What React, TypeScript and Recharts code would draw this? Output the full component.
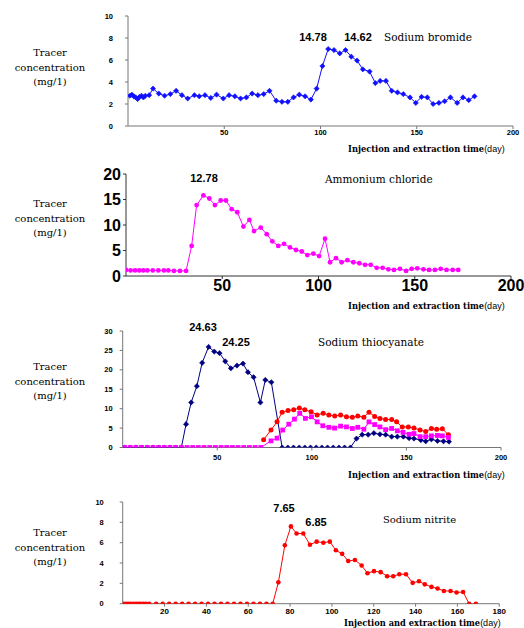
import React from "react";
import { LineChart, Line, XAxis, YAxis } from "recharts";

// Sodium bromide
const bromideDays = [1, 2, 3, 4, 5, 6, 7, 8, 9, 11, 13, 16, 19, 22, 25, 28, 31, 34.5, 37, 40, 43, 46, 49.5, 52.5, 55.5, 58.5, 61.5, 64.5, 67.5, 70.5, 73.5, 77, 80, 83, 86, 89, 92, 95, 98, 101, 104, 107, 110, 113, 116, 119, 122, 125.5, 128.5, 131, 134, 137, 140, 143, 146.5, 149.5, 152.5, 155.5, 158.5, 161.5, 164.5, 167.5, 171, 174, 177, 180];
const bromideValues = [2.75, 2.85, 2.7, 2.6, 2.45, 2.65, 2.75, 2.6, 2.75, 2.8, 3.4, 2.95, 2.75, 2.9, 3.2, 2.8, 2.5, 2.8, 2.7, 2.8, 2.55, 2.85, 2.5, 2.8, 2.7, 2.5, 2.6, 2.95, 2.8, 2.9, 3.2, 2.3, 2.2, 2.2, 2.6, 2.85, 2.7, 2.4, 3.4, 5.45, 7.0, 6.9, 6.6, 6.9, 6.3, 5.95, 5.15, 4.95, 3.9, 4.1, 4.1, 3.2, 3.05, 2.9, 2.6, 2.1, 2.65, 2.6, 2.0, 2.1, 2.25, 2.6, 2.1, 2.6, 2.35, 2.7];

// Ammonium chloride
const chlorideDays = [0, 2.4, 4.7, 6.9, 9, 11.1, 13.9, 16.8, 19.7, 22, 24.9, 28, 31.2, 34.1, 36.7, 40.2, 43.3, 46.2, 49.2, 51.9, 54.9, 57.8, 61, 64.1, 66.5, 70, 73.1, 76, 79.1, 82.1, 85.2, 88.3, 91.3, 94.2, 97.3, 100.3, 103.4, 106, 109.1, 112, 115, 118.1, 121.2, 124.2, 127.1, 130.2, 133.3, 136.3, 139.2, 142.3, 145.5, 148.4, 151.3, 154.5, 157.4, 160.5, 163.5, 166.5, 169.7, 172.6];
const chlorideValues = [1.2, 1.1, 1.1, 1.1, 1.1, 1.1, 1.1, 1.1, 1.1, 1.1, 1.0, 1.0, 1.0, 5.9, 13.9, 15.8, 15.2, 13.9, 14.8, 14.8, 13.1, 12.5, 9.7, 11.0, 8.8, 9.5, 8.2, 6.8, 5.9, 6.3, 5.6, 5.1, 4.8, 4.1, 4.4, 3.9, 7.3, 2.7, 3.5, 2.7, 3.1, 2.7, 2.5, 2.2, 2.2, 1.6, 1.6, 1.3, 1.2, 1.4, 1.0, 1.4, 1.5, 1.3, 1.2, 1.2, 1.4, 1.2, 1.2, 1.2];

// Sodium thiocyanate (three series)
const thioNavyDays = [1, 4, 7, 10, 13, 16, 19, 22, 25, 28, 31, 33.5, 36.2, 39.2, 42, 45.4, 48.4, 51.2, 54.2, 57.2, 60.4, 63.6, 66.2, 69.2, 72.8, 75.4, 78.6, 84.3, 87.3, 90.3, 93.3, 96.3, 99.3, 102.3, 105.3, 108.3, 111.3, 114.3, 117.3, 120.4, 123.6, 126.6, 129.8, 132.8, 136, 139, 142.2, 145.2, 148.4, 151.4, 154, 157.6, 160.2, 163.2, 166.4, 169.6, 172.5];
const thioNavyValues = [0, 0, 0, 0, 0, 0, 0, 0, 0, 0, 0, 6.0, 11.6, 15.8, 21.8, 25.9, 24.7, 24.3, 22.2, 20.4, 21.1, 21.6, 19.4, 18.1, 11.6, 17.4, 16.8, 0, 0, 0, 0, 0, 0, 0, 0, 0, 0, 0, 0, 0, 2.3, 3.3, 3.3, 3.7, 3.4, 3.3, 2.8, 2.8, 2.8, 2.4, 2.3, 1.9, 1.6, 2.1, 1.7, 1.6, 1.5];
const thioRedDays = [74.5, 78.4, 81.6, 84.3, 87.4, 90.4, 93.4, 96.3, 99.6, 102.8, 106, 109, 112.1, 115.2, 118.3, 121.4, 124.3, 127.5, 130.2, 133.2, 136, 139, 142.2, 144.8, 147.8, 151, 154, 157.2, 160.2, 163.2, 166, 169, 172.2];
const thioRedValues = [2.0, 4.5, 6.6, 9.1, 9.5, 9.7, 10.2, 9.7, 9.2, 8.4, 8.8, 8.4, 8.1, 8.4, 7.9, 7.8, 8.1, 7.8, 9.1, 8.0, 7.5, 7.2, 7.2, 6.6, 5.3, 5.3, 5.0, 4.5, 4.1, 4.9, 4.7, 4.8, 3.3];
const thioPinkDays = [1, 4, 7, 10, 13, 16, 19, 22, 25, 28, 31, 34, 37, 40, 43, 46, 49, 52, 55, 58, 61, 64, 67, 70, 73, 78.4, 81.6, 84.6, 87.8, 90.8, 93.6, 96.6, 99.8, 102.8, 105.8, 109, 112, 115.2, 118.3, 121.4, 124.3, 127.5, 130.2, 133.2, 136, 139, 142.2, 145.2, 148.2, 151.4, 154, 157.2, 160.2, 163.2, 166.4, 169, 172.2];
const thioPinkValues = [0, 0, 0, 0, 0, 0, 0, 0, 0, 0, 0, 0, 0, 0, 0, 0, 0, 0, 0, 0, 0, 0, 0, 0, 0, 1.7, 2.4, 4.5, 6.0, 7.3, 8.8, 7.5, 7.9, 6.6, 5.6, 5.2, 5.0, 5.5, 5.3, 4.9, 5.2, 4.7, 6.6, 5.9, 5.3, 4.6, 4.9, 4.3, 3.9, 3.4, 3.6, 2.8, 2.8, 3.0, 3.1, 3.0, 2.6];

// Sodium nitrite
const nitriteDays = [0.3, 1.6, 2.7, 3.8, 5.1, 6.4, 7.5, 8.6, 9.9, 11.1, 12.7, 16, 19.1, 22.2, 25.3, 28.4, 31.5, 34.6, 37.7, 40.8, 43.9, 47, 50.1, 53.2, 56.3, 59.4, 62.5, 65.6, 68.7, 71.7, 74.4, 77.5, 80.4, 83.1, 86.3, 89.5, 92.7, 95.9, 99, 101.9, 104.9, 107.8, 111, 114.2, 117, 120.1, 123.3, 126.4, 129.3, 132.2, 135.4, 138.6, 141.6, 144.4, 147.6, 150.5, 153.5, 156.7, 159.6, 162.7, 165.6, 168.8];
const nitriteValues = [0, 0, 0, 0, 0, 0, 0, 0, 0, 0, 0, 0, 0, 0, 0, 0, 0, 0, 0, 0, 0, 0, 0, 0, 0, 0, 0, 0, 0, 0, 2.1, 5.75, 7.6, 6.9, 6.9, 5.8, 6.1, 6.0, 6.1, 5.25, 4.9, 4.2, 4.3, 3.75, 3.0, 3.2, 3.1, 2.7, 2.7, 2.9, 2.9, 2.05, 2.2, 1.9, 1.65, 1.5, 1.25, 1.25, 1.1, 1.15, 0, 0];

const ticks200 = [50, 100, 150, 200];
const ticks180 = [20, 40, 60, 80, 100, 120, 140, 160, 180];
const yTicks10 = [0, 2, 4, 6, 8, 10];
const yTicks20 = [0, 5, 10, 15, 20];
const yTicks30 = [0, 5, 10, 15, 20, 25, 30];

const zip = (days, values) => days.map((d, i) => ({ day: d, v: values[i] }));

const W = 524;
const SERIF = "'DejaVu Serif', 'Liberation Serif', serif";
const SANS = "'Liberation Sans', Arial, sans-serif";

function makeDot(shape, color, r) {
  return (props) => {
    const { cx, cy, index } = props;
    const key = `dot-${index}`;
    if (cx == null || cy == null) return <g key={key} />;
    if (shape === "diamond") {
      return (
        <path
          key={key}
          d={`M${cx},${cy - r} L${cx + r},${cy} L${cx},${cy + r} L${cx - r},${cy} Z`}
          fill={color}
          stroke={color}
          strokeWidth={0.6}
        />
      );
    }
    if (shape === "square") {
      return <rect key={key} x={cx - r} y={cy - r} width={r * 2} height={r * 2} fill={color} />;
    }
    return <circle key={key} cx={cx} cy={cy} r={r} fill={color} />;
  };
}

function Panel({ x0, x1, yTop, yBot, xDomain, yDomain, xTicks, yTicks, yFont, xFont, yMargin, xMargin, axisColor, series }) {
  const height = yBot - yTop + 10 + 20;
  return (
    <div style={{ position: "absolute", left: 0, top: yTop - 10, width: W, height }}>
      <LineChart width={W} height={height} margin={{ top: 10, right: W - x1, bottom: 0, left: x0 - 40 }}>
        <XAxis
          type="number"
          dataKey="day"
          domain={xDomain}
          ticks={xTicks}
          interval={0}
          height={20}
          allowDataOverflow
          axisLine={{ stroke: axisColor }}
          tickLine={{ stroke: axisColor }}
          tickSize={3}
          tickMargin={xMargin}
          tick={{ fontSize: xFont, fontWeight: "bold", fill: "#000", fontFamily: SANS }}
        />
        <YAxis
          type="number"
          domain={yDomain}
          ticks={yTicks}
          interval={0}
          width={40}
          allowDataOverflow
          axisLine={{ stroke: axisColor }}
          tickLine={{ stroke: axisColor }}
          tickSize={3}
          tickMargin={yMargin}
          tick={{ fontSize: yFont, fontWeight: "bold", fill: "#000", fontFamily: SANS }}
        />
        {series.map((s) => (
          <Line
            key={s.name}
            data={s.data}
            dataKey="v"
            type="linear"
            stroke={s.color}
            strokeWidth={1}
            dot={makeDot(s.shape, s.color, s.r)}
            activeDot={false}
            isAnimationActive={false}
          />
        ))}
      </LineChart>
    </div>
  );
}

function Txt({ x, y, children, size = 11, family = SANS, weight = "bold", center = false }) {
  return (
    <div
      style={{
        position: "absolute",
        left: x,
        top: y,
        transform: center ? "translate(-50%, -50%)" : "translateY(-50%)",
        fontSize: size,
        fontFamily: family,
        fontWeight: weight,
        lineHeight: 1,
        whiteSpace: "nowrap",
        color: "#000",
      }}
    >
      {children}
    </div>
  );
}

function YTitle({ y }) {
  return (
    <>
      <Txt x={50} y={y} size={10} family={SERIF} weight="normal" center>Tracer</Txt>
      <Txt x={50} y={y + 14.5} size={10} family={SERIF} weight="normal" center>concentration</Txt>
      <Txt x={50} y={y + 29} size={10} family={SERIF} weight="normal" center>(mg/1)</Txt>
    </>
  );
}

function XTitle({ x, y }) {
  return (
    <div
      style={{
        position: "absolute",
        left: x,
        top: y,
        transform: "translateY(-50%)",
        whiteSpace: "nowrap",
        lineHeight: 1,
        color: "#000",
      }}
    >
      <span style={{ fontFamily: SERIF, fontWeight: "bold", fontSize: 8.3 }}>Injection and extraction time</span>
      <span style={{ fontFamily: SANS, fontSize: 9 }}>(day)</span>
    </div>
  );
}

export default function App() {
  return (
    <div style={{ position: "absolute", left: 0, top: 0, width: W, height: 628, background: "#fff", overflow: "hidden" }}>
      <Panel
        x0={128} x1={513} yTop={16} yBot={126}
        xDomain={[0, 200]} yDomain={[0, 10]} xTicks={ticks200} yTicks={yTicks10}
        yFont={7.5} xFont={7.5} yMargin={12} xMargin={1} axisColor="#777"
        series={[{ name: "bromide", data: zip(bromideDays, bromideValues), color: "#1010ff", shape: "diamond", r: 2.6 }]}
      />
      <Panel
        x0={126} x1={511} yTop={174} yBot={276}
        xDomain={[0, 200]} yDomain={[0, 20]} xTicks={ticks200} yTicks={yTicks20}
        yFont={16} xFont={16} yMargin={2} xMargin={1} axisColor="#333"
        series={[{ name: "chloride", data: zip(chlorideDays, chlorideValues), color: "#ff00ff", shape: "circle", r: 2.4 }]}
      />
      <Panel
        x0={122.7} x1={501} yTop={330.5} yBot={447}
        xDomain={[0, 200]} yDomain={[0, 30]} xTicks={ticks200} yTicks={yTicks30}
        yFont={7.5} xFont={7.5} yMargin={7} xMargin={4} axisColor="#777"
        series={[
          { name: "navy", data: zip(thioNavyDays, thioNavyValues), color: "#000080", shape: "diamond", r: 2.6 },
          { name: "red", data: zip(thioRedDays, thioRedValues), color: "#ff0000", shape: "circle", r: 2.5 },
          { name: "pink", data: zip(thioPinkDays, thioPinkValues), color: "#ff00ff", shape: "square", r: 2.4 },
        ]}
      />
      <Panel
        x0={122.7} x1={499.3} yTop={502.3} yBot={604}
        xDomain={[0, 180]} yDomain={[0, 10]} xTicks={ticks180} yTicks={yTicks10}
        yFont={7.5} xFont={8} yMargin={16} xMargin={2} axisColor="#777"
        series={[{ name: "nitrite", data: zip(nitriteDays, nitriteValues), color: "#ff0000", shape: "circle", r: 2.3 }]}
      />

      <YTitle y={53} />
      <YTitle y={204} />
      <YTitle y={367} />
      <YTitle y={533} />

      <XTitle x={348} y={146.5} />
      <XTitle x={348} y={304} />
      <XTitle x={348} y={473} />
      <XTitle x={344} y={621} />

      <Txt x={313} y={37} center>14.78</Txt>
      <Txt x={358} y={37} center>14.62</Txt>
      <Txt x={384} y={37} size={10.5} family={SERIF} weight="normal">Sodium bromide</Txt>

      <Txt x={204} y={178} center>12.78</Txt>
      <Txt x={325} y={179} size={10.5} family={SERIF} weight="normal">Ammonium chloride</Txt>

      <Txt x={203} y={327} center>24.63</Txt>
      <Txt x={236} y={342} center>24.25</Txt>
      <Txt x={318} y={342} size={10.5} family={SERIF} weight="normal">Sodium thiocyanate</Txt>

      <Txt x={284} y={508} center>7.65</Txt>
      <Txt x={316} y={522} center>6.85</Txt>
      <Txt x={383} y={520} size={10} family={SERIF} weight="normal">Sodium nitrite</Txt>
    </div>
  );
}
